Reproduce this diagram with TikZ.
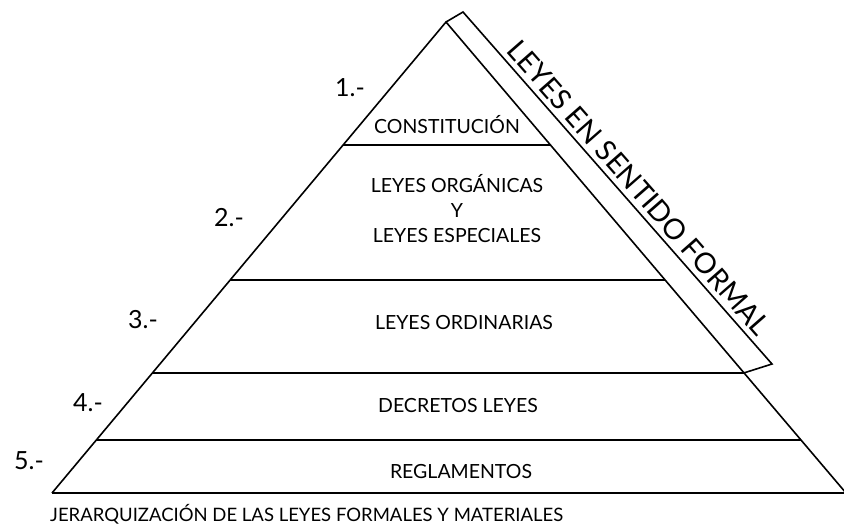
\documentclass[tikz,border=0pt]{standalone}
\usepackage{fontspec}
\setmainfont{Lato}
\usetikzlibrary{calc}
\tikzset{
    level/.style={font=\fontsize{19.5}{25}\selectfont,align=center,inner sep=0pt},
    number/.style={font=\fontsize{25}{27}\selectfont,inner sep=0pt},
    side/.style={line width=1.6pt},
    cut/.style={line width=2pt}
}

\begin{document}
\begin{tikzpicture}[x=1pt,y=-1pt]
  \useasboundingbox (0,0) rectangle (844,525);
  % Draw pyramid
  \coordinate (apex) at (446,22);
  \coordinate (bl) at (52,493);
  \coordinate (br) at (846,493);
  \draw[side,line join=miter] (bl) -- (apex) -- (br);
  \draw[cut] (bl) -- (br);
  % Draw levels
  \foreach \t/\name in {0.261/c1,0.548/c2,0.745/c3,0.887/c4}
    \draw[cut] ($(apex)!\t!(bl)$) coordinate (\name l)
          -- ($(apex)!\t!(br)$) coordinate (\name r);
  % Draw formal band
  \coordinate (band top) at (463,12);
  \coordinate (band bot) at (772,364);
  \draw[side,line join=miter] (apex) -- (band top) -- (band bot)
        node[pos=0.53,sloped,above=5pt,font=\fontsize{28.5}{30}\selectfont,inner sep=0pt]
        (formal) {LEYES EN SENTIDO FORMAL}
        -- (c3r);
  % Draw labels
  \node[level] (constitucion) at (447,125) {CONSTITUCIÓN};
  \node[level] (organicas) at (457,209)
        {LEYES ORGÁNICAS\\Y\\LEYES ESPECIALES};
  \node[level] (ordinarias) at (464,323) {LEYES ORDINARIAS};
  \node[level] (decretos) at (458,406) {DECRETOS LEYES};
  \node[level] (reglamentos) at (461,472) {REGLAMENTOS};
  % Draw numbers
  \node[number] (n1) at (350,88) {1.-};
  \node[number] (n2) at (229,218) {2.-};
  \node[number] (n3) at (143,320) {3.-};
  \node[number] (n4) at (88,403) {4.-};
  \node[number] (n5) at (29,461) {5.-};
  % Caption
  \node[level,anchor=west,font=\fontsize{18.5}{22}\selectfont] (caption) at (50,514)
        {JERARQUIZACIÓN DE LAS LEYES FORMALES Y MATERIALES};
\end{tikzpicture}
\end{document}
